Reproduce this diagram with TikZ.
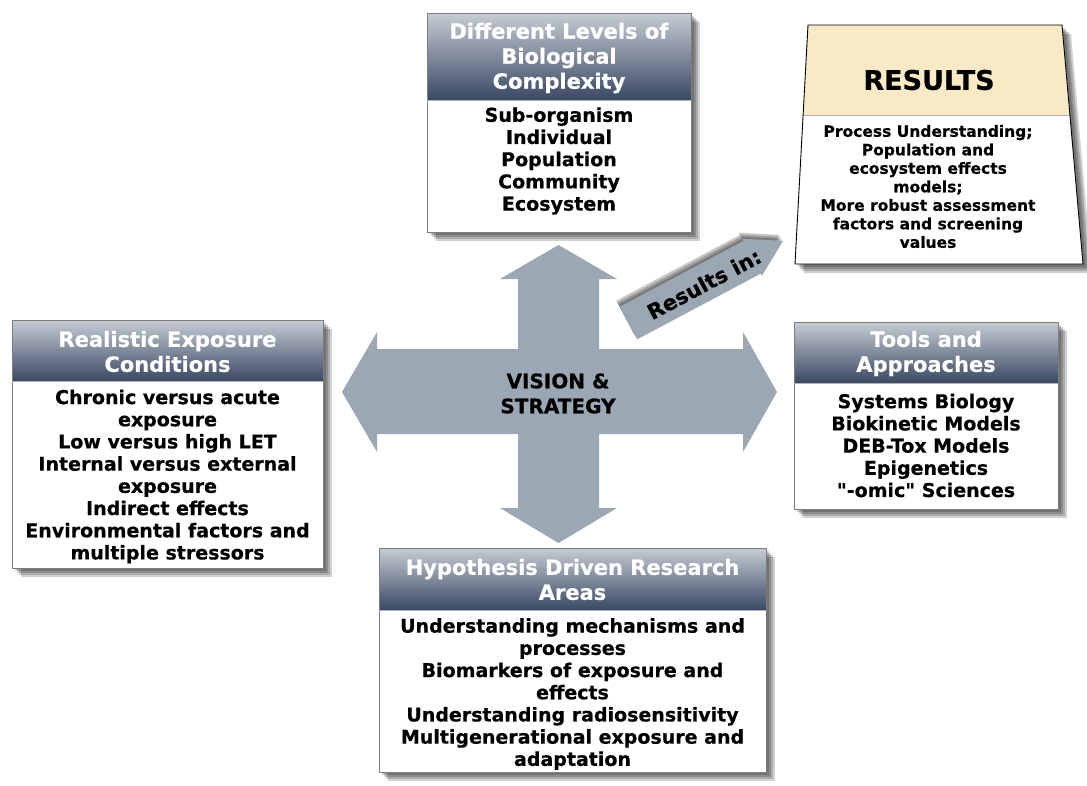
\documentclass[tikz,border=0pt]{standalone}
\usepackage{fontspec}
\setmainfont{DejaVu Sans}[Ligatures=TeXOff,BoldFeatures={FakeBold=0.5}]
\definecolor{crossc}{RGB}{155,168,180}
\definecolor{headtop}{RGB}{198,204,211}
\definecolor{headbot}{RGB}{58,72,100}
\definecolor{resfill}{RGB}{250,233,198}
\definecolor{boxline}{RGB}{125,125,125}
\tikzset{
 headfill/.style={top color=headtop,bottom color=headbot,draw=none},
 bodyfill/.style={fill=white,draw=boxline,line width=0.9pt},
 headtxt/.style={text=white,font=\bfseries\fontsize{21}{25}\selectfont,align=center,inner sep=0pt},
 bodytxt/.style={text=black,font=\bfseries\fontsize{19}{22.2}\selectfont,align=center,inner sep=0pt},
 shadowlayer/.style={fill=black,opacity=0.18},
}
\newcommand\rectshadow[4]{\foreach \k in {3,5,7,9}{\fill[shadowlayer] (#1+\k,#2+\k) rectangle (#3+\k,#4+\k);}}
\newcommand\headedbox[5]{% x1 y1 x2 y2 yheader
  \rectshadow{#1}{#2}{#3}{#4}
  \draw[bodyfill] (#1,#2) rectangle (#3,#4);
  \fill[headfill] (#1,#2) rectangle (#3,#5);
  \draw[boxline] (#1,#2) rectangle (#3,#4);
  \draw[gray!60,line width=0.6pt] (#1,#5) -- (#3,#5);
}
\begin{document}
\begin{tikzpicture}[x=1pt,y=-1pt]
\useasboundingbox (0,0) rectangle (1087,785);

% central cross arrow
\fill[crossc] (558.5,245) -- (617,279) -- (599,279) -- (599,349) -- (743,349) -- (743,332) -- (777,392) -- (743,452) -- (743,434) -- (599,434) -- (599,508) -- (617,508) -- (558.5,543) -- (500,508) -- (518,508) -- (518,434) -- (377,434) -- (377,452) -- (342,392) -- (377,332) -- (377,349) -- (518,349) -- (518,279) -- (500,279) -- cycle;
\node[bodytxt,font=\bfseries\fontsize{20}{25}\selectfont] (vision) at (558,393.5) {VISION \&\\STRATEGY};

% top box
\headedbox{427}{13}{691}{232}{100}
\node[headtxt] (toph) at (559,58) {Different Levels of\\Biological\\Complexity};
\node[bodytxt] (topb) at (559,161) {Sub-organism\\Individual\\Population\\Community\\Ecosystem};

% left box
\headedbox{12}{320}{323}{568}{381}
\node[headtxt] (lefth) at (167.5,351.5) {Realistic Exposure\\Conditions};
\node[bodytxt] (leftb) at (167.5,476.5) {Chronic versus acute\\exposure\\Low versus high LET\\Internal versus external\\exposure\\Indirect effects\\Environmental factors and\\multiple stressors};

% right box
\headedbox{794}{322}{1058}{509}{383}
\node[headtxt] (righth) at (926,353.5) {Tools and\\Approaches};
\node[bodytxt] (rightb) at (926,445.5) {Systems Biology\\Biokinetic Models\\DEB-Tox Models\\Epigenetics\\"-omic" Sciences};

% bottom box
\headedbox{379}{548}{766}{772}{610}
\node[headtxt] (both) at (572.5,579.5) {Hypothesis Driven Research\\Areas};
\node[bodytxt] (botb) at (572.5,694) {Understanding mechanisms and\\processes\\Biomarkers of exposure and\\effects\\Understanding radiosensitivity\\Multigenerational exposure and\\adaptation};

% results trapezoid
\foreach \k in {3,5,7,9}{\fill[shadowlayer] (808+\k,25+\k) -- (1062+\k,25+\k) -- (1083+\k,264+\k) -- (795+\k,264+\k) -- cycle;}
\fill[white] (808,25) -- (1062,25) -- (1083,264) -- (795,264) -- cycle;
\fill[resfill] (808,25) -- (1062,25) -- (1070,115) -- (803,115) -- cycle;
\draw[gray!60,line width=0.6pt] (803,115) -- (1070,115);
\draw[black,line width=0.9pt] (808,25) -- (1062,25) -- (1083,264) -- (795,264) -- cycle;
\node[bodytxt,font=\bfseries\fontsize{27}{30}\selectfont] (resh) at (929,80) {RESULTS};
\node[bodytxt,font=\bfseries\fontsize{15.5}{18.5}\selectfont] (resb) at (928,186.5) {Process Understanding;\\Population and\\ecosystem effects\\models;\\More robust assessment\\factors and screening\\values};

% "Results in:" arrow
\foreach \k in {2,4,6}{
\begin{scope}[shift={(628.5-\k*0.6,323-\k)},rotate=28]
\fill[shadowlayer,opacity=0.22] (0,-18.5) -- (140,-18.5) -- (140,-21) -- (175,0) -- (140,21) -- (140,18.5) -- (0,18.5) -- cycle;
\end{scope}}
\begin{scope}[shift={(628.5,323)},rotate=28]
\fill[crossc] (0,-18.5) -- (140,-18.5) -- (140,-21) -- (175,0) -- (140,21) -- (140,18.5) -- (0,18.5) -- cycle;
\node[bodytxt,font=\bfseries\fontsize{21}{24}\selectfont,rotate=28] (resin) at (85,1) {Results in:};
\end{scope}
\end{tikzpicture}
\end{document}
